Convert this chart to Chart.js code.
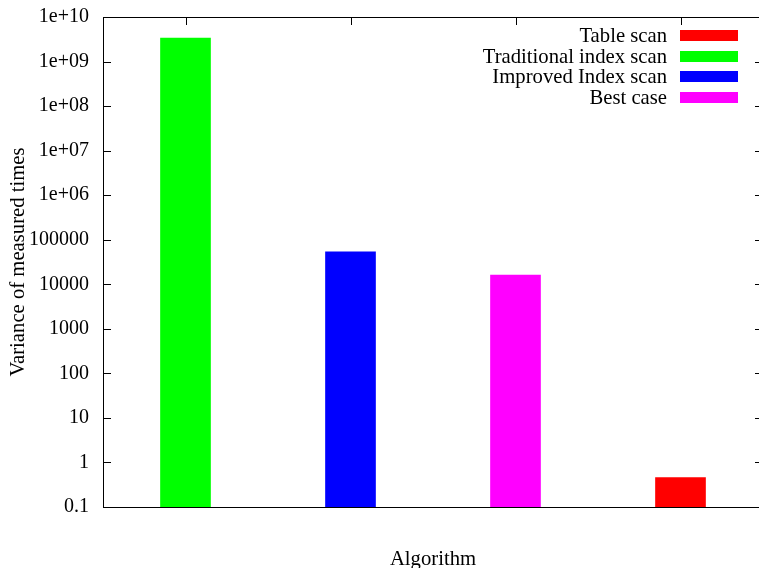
<!DOCTYPE html>
<html>
<head>
<meta charset="utf-8">
<script src="https://cdn.jsdelivr.net/npm/chart.js@4/dist/chart.umd.min.js"></script>
<style>
  html, body { margin: 0; padding: 0; background: #fff; overflow: hidden; width: 759px; height: 568px; }
  canvas { display: block; }
</style>
</head>
<body>
<canvas id="myChart" width="766" height="568"></canvas>
<script>
// categories along the x axis (one bar per slot)
const slots = ['Traditional index scan', 'Improved Index scan', 'Best case', 'Table scan']

// legend order of the series
const seriesNames = ['Table scan', 'Traditional index scan', 'Improved Index scan', 'Best case']
const seriesValues = [0.458, 3.37e9, 53800, 16100]
const seriesColors = ['#ff0000', '#00ff00', '#0000ff', '#ff00ff']

// y tick values (decades)
const yTicks = [0.1, 1, 10, 100, 1000, 10000, 100000, 1e6, 1e7, 1e8, 1e9, 1e10]

const tickFont = { family: 'Liberation Serif', size: 20 }
const textFont = { family: 'Liberation Serif', size: 20.7 }

const datasets = seriesNames.map((name, i) => {
    let data = slots.map(s => (s === name ? seriesValues[i] : null))
    return {
        label: name,
        data: data,
        backgroundColor: seriesColors[i],
        borderWidth: 0,
        barThickness: 50,
        grouped: false
    }
})

const fmtTick = (v) => {
    if (v < 1e6) return String(v)
    let e = Math.round(Math.log10(v))
    return '1e+' + (e < 10 ? '0' + e : e)
}

// frame, inward ticks and the legend, gnuplot style
const framePlugin = {
    id: 'frame',
    afterDraw(chart) {
        const ctx = chart.ctx
        const a = chart.chartArea
        const y = chart.scales.y
        const x = chart.scales.x
        ctx.save()
        ctx.strokeStyle = '#000'
        ctx.lineWidth = 1
        ctx.strokeRect(a.left + 0.5, a.top + 0.5, a.right - a.left, a.bottom - a.top)

        ctx.beginPath()
        yTicks.forEach(v => {
            let py = Math.round(y.getPixelForValue(v)) + 0.5
            ctx.moveTo(a.left, py); ctx.lineTo(a.left + 8, py)
            ctx.moveTo(a.right, py); ctx.lineTo(a.right - 8, py)
        })
        slots.forEach((s, i) => {
            let px = Math.round(x.getPixelForValue(i)) + 0.5
            ctx.moveTo(px, a.top); ctx.lineTo(px, a.top + 8)
        })
        ctx.stroke()

        // legend
        ctx.font = textFont.size + 'px ' + textFont.family
        ctx.textAlign = 'right'
        ctx.textBaseline = 'middle'
        seriesNames.forEach((name, i) => {
            let cy = 35.4 + i * 20.7
            ctx.fillStyle = '#000'
            ctx.fillText(name, 667, cy + 1)
            ctx.fillStyle = seriesColors[i]
            ctx.fillRect(680, Math.round(cy - 5.5), 58, 11)
        })
        ctx.restore()
    }
}

const config = {
    type: 'bar',
    data: { labels: slots, datasets: datasets },
    options: {
        responsive: false,
        animation: false,
        layout: { padding: { top: 17, right: 3, left: 0, bottom: 0 } },
        plugins: { legend: { display: false }, tooltip: { enabled: false } },
        scales: {
            x: {
                grid: { display: false, drawTicks: false },
                border: { display: false },
                ticks: { display: false },
                title: { display: true, text: 'Algorithm', font: textFont, color: '#000', padding: { top: 0, bottom: -4 } },
                afterFit(scale) {
                    scale.height = 61
                    scale.paddingLeft = 0
                    scale.paddingRight = 0
                }
            },
            y: {
                type: 'logarithmic',
                min: 0.1,
                max: 1e10,
                grid: { display: false, drawTicks: false },
                border: { display: false },
                ticks: { font: tickFont, color: '#000', padding: 14, autoSkip: false, callback: (v) => fmtTick(v) },
                afterBuildTicks(scale) { scale.ticks = yTicks.map(v => ({ value: v })) },
                title: { display: true, text: 'Variance of measured times', font: textFont, color: '#000', padding: { top: 6, bottom: 0 } },
                afterFit(scale) {
                    scale.width = 103
                    scale.paddingTop = 0
                    scale.paddingBottom = 0
                }
            }
        }
    },
    plugins: [framePlugin]
}

const myChart = new Chart(document.getElementById('myChart'), config)
</script>
</body>
</html>
